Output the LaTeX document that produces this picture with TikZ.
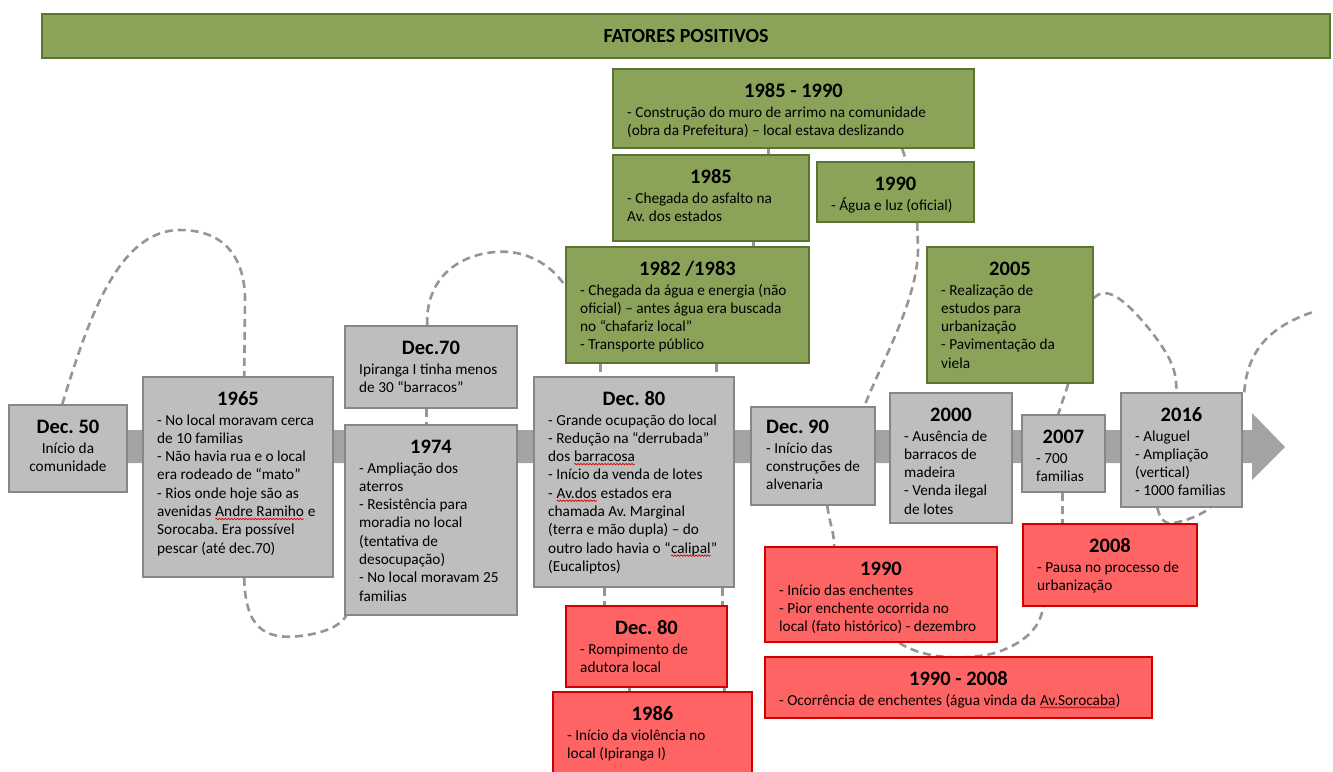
\documentclass[tikz,border=0pt]{standalone}
\usepackage{fontspec}
\setmainfont{Carlito}
\usetikzlibrary{backgrounds,decorations.pathmorphing}
\frenchspacing

\definecolor{grayfill}{HTML}{BEBEBE}
\definecolor{grayedge}{HTML}{878787}
\definecolor{barcol}{HTML}{A3A3A3}
\definecolor{greenfill}{HTML}{8AA359}
\definecolor{greenedge}{HTML}{5A7432}
\definecolor{redfill}{HTML}{FF6464}
\definecolor{rededge}{HTML}{D10000}
\definecolor{linkcol}{HTML}{959595}
\definecolor{squig}{HTML}{E00000}

\newcommand\titlefont{\fontsize{20.5}{24}\selectfont\bfseries}
\newcommand\bodyfont{\fontsize{15.3}{18.3}\selectfont}

% word with a red wavy underline
\newcommand\spell[1]{\tikz[baseline=(w.base)]{%
  \node[inner sep=0pt,outer sep=0pt,anchor=base] (w) {#1};
  \draw[squig,line width=0.7pt,decorate,decoration={snake,amplitude=0.7pt,segment length=3pt}]
    ([yshift=-2.5pt]w.base west) -- ([yshift=-2.5pt]w.base east);}}

% event card: name, style, left, top, right, bottom, title, body lines
\newcommand\tlcard[8]{%
  \node[#2, minimum width={(#5-#3)*1pt}, minimum height={(#6-#4)*1pt}]
    (#1) at ({(#3+#5)/2},{(#4+#6)/2}) {};
  \node[anchor=base, inner sep=0pt] (#1-t) at ({(#3+#5)/2},{#4+28}) {\titlefont #7};
  \node[anchor=base west, inner sep=0pt] (#1-b) at ({#3+14},{#4+48})
    {\bodyfont\begin{tabular}[t]{@{}l@{}}#8\end{tabular}};
}

\tikzset{
  graybox/.style={draw=grayedge, fill=grayfill, line width=1.5pt, inner sep=0pt},
  greenbox/.style={draw=greenedge, fill=greenfill, line width=1.5pt, inner sep=0pt},
  redbox/.style={draw=rededge, fill=redfill, line width=1.5pt, inner sep=0pt},
  dashlink/.style={draw=linkcol, line width=2.6pt, dash pattern=on 8pt off 5pt},
}

\begin{document}
\begin{tikzpicture}[x=1pt,y=-1pt]
\useasboundingbox (0,0) rectangle (1333,771);

% header
\node[draw=greenedge, fill=greenfill, line width=1.5pt, minimum width=1288pt,
      minimum height=44pt, font=\fontsize{20}{23}\selectfont\bfseries] (head) at (686,36) {FATORES POSITIVOS};

% timeline row
\node[graybox, minimum width=118pt, minimum height=87pt] (d50) at (68,448.5) {};
\node[anchor=base, inner sep=0pt] (d50-t) at (68,433) {\titlefont Dec. 50};
\node[anchor=base, inner sep=0pt] (d50-b) at (68,453)
  {\bodyfont\begin{tabular}[t]{@{}c@{}}Início da\\comunidade\end{tabular}};

\tlcard{y1965}{graybox}{143}{377}{333}{577}{1965}{- No local moravam cerca\\de 10 familias\\- Não havia rua e o local\\era rodeado de “mato”\\- Rios onde hoje são as\\avenidas \spell{Andre Ramiho} e\\Sorocaba. Era possível\\pescar (até dec.70)}
\tlcard{dec70}{graybox}{345}{326}{517}{408}{Dec.70}{Ipiranga I tinha menos\\de 30 “barracos”}
\tlcard{y1974}{graybox}{345}{425}{517}{615}{1974}{- Ampliação dos\\aterros\\- Resistência para\\moradia no local\\(tentativa de\\desocupação)\\- No local moravam 25\\familias}
\tlcard{dec80}{graybox}{534}{377}{734}{587}{Dec. 80}{- Grande ocupação do local\\- Redução na “derrubada”\\dos \spell{barracosa}\\- Início da venda de lotes\\- \spell{Av.dos} estados era\\chamada Av. Marginal\\(terra e mão dupla) – do\\outro lado havia o “\spell{calipal}”\\(Eucaliptos)}

\node[graybox, minimum width=124pt, minimum height=98pt] (d90) at (813,456) {};
\node[anchor=base west, inner sep=0pt] (d90-t) at (766,433) {\titlefont Dec. 90};
\node[anchor=base west, inner sep=0pt] (d90-b) at (766,453)
  {\bodyfont\begin{tabular}[t]{@{}l@{}}- Início das\\construções de\\alvenaria\end{tabular}};

\tlcard{y2000}{graybox}{890}{393}{1012}{523}{2000}{- Ausência de\\barracos de\\madeira\\- Venda ilegal\\de lotes}
\tlcard{y2007}{graybox}{1022}{415}{1105}{492}{2007}{- 700\\familias}
\tlcard{y2016}{graybox}{1121}{393}{1242}{507}{2016}{- Aluguel\\- Ampliação\\(vertical)\\- 1000 familias}

% positive factors
\tlcard{c8590}{greenbox}{613}{69}{974}{148}{1985 - 1990}{- Construção do muro de arrimo na comunidade\\(obra da Prefeitura) – local estava deslizando}
\tlcard{c1985}{greenbox}{613}{155}{809}{241}{1985}{- Chegada do asfalto na\\Av. dos estados}
\tlcard{g1990}{greenbox}{817}{162}{974}{222}{1990}{- Água e luz (oficial)}
\tlcard{c1982}{greenbox}{566}{247}{809}{363}{1982 /1983}{- Chegada da água e energia (não\\oficial) – antes água era buscada\\no “chafariz local”\\- Transporte público}
\tlcard{g2005}{greenbox}{927}{247}{1093}{383}{2005}{- Realização de\\estudos para\\urbanização\\- Pavimentação da\\viela}

% negative factors
\tlcard{rd80}{redbox}{566}{606}{727}{687}{Dec. 80}{- Rompimento de\\adutora local}
\tlcard{r1986}{redbox}{553}{692}{752}{790}{1986}{- Início da violência no\\local (Ipiranga I)}
\tlcard{r1990}{redbox}{765}{547}{997}{642}{1990}{- Início das enchentes\\- Pior enchente ocorrida no\\local (fato histórico) - dezembro}
\tlcard{r9008}{redbox}{765}{657}{1152}{718}{1990 - 2008}{- Ocorrência de enchentes (água vinda da \spell{Av.Sorocaba})}
\tlcard{r2008}{redbox}{1023}{524}{1197}{606}{2008}{- Pausa no processo de\\urbanização}

\coordinate (tail) at (1313,312);

\begin{pgfonlayer}{background}
  % time arrow
  \fill[barcol] (9,430) -- (1252,430) -- (1252,413) -- (1285,447) -- (1252,480)
    -- (1252,463) -- (9,463) -- cycle;
  % dashed links
  \draw[dashlink] ([xshift=54pt]d50.north west) .. controls (88,320) and (118,230) .. (180,230)
    .. controls (228,230) and (245,262) .. (245,300) -- ([xshift=102pt]y1965.north west);
  \draw[dashlink] ([xshift=102pt]y1965.south west) .. controls (245,628) and (265,640) .. (300,636)
    .. controls (325,633) and (340,626) .. ([xshift=2pt]y1974.south west);
  \draw[dashlink] ([xshift=82pt]dec70.south west) -- ([xshift=82pt]y1974.north west);
  \draw[dashlink] ([xshift=83pt]dec70.north west) .. controls (425,272) and (468,249) .. (510,252)
    .. controls (536,255) and (555,270) .. ([yshift=-40pt]c1982.north west);
  \draw[dashlink] ([xshift=35pt]c1982.south west) -- ([xshift=67pt]dec80.north west);
  \draw[dashlink] ([xshift=151pt]c1982.south west) -- ([xshift=183pt]dec80.north west);
  \draw[dashlink] ([xshift=156pt]c8590.south west) -- ([xshift=156pt]c1985.north west);
  \draw[dashlink] ([xshift=141pt]c1985.south west) -- ([xshift=188pt]c1982.north west);
  \draw[dashlink] ([xshift=290pt]c8590.south west) -- ([xshift=90pt]g1990.north west);
  \draw[dashlink] ([xshift=101pt]g1990.south west) -- (918,250)
    .. controls (917,300) and (885,355) .. ([xshift=114pt]d90.north west);
  \draw[dashlink] ([xshift=77pt]d90.south west) .. controls (830,525) and (834,532) .. ([xshift=70pt]r1990.north west);
  \draw[dashlink] ([xshift=71pt]dec80.south west) -- ([xshift=39pt]rd80.north west);
  \draw[dashlink] ([xshift=189pt]dec80.south west) -- ([xshift=157pt]rd80.north west);
  \draw[dashlink] ([xshift=64pt]rd80.south west) -- ([xshift=77pt]r1986.north west);
  \draw[dashlink] ([xshift=159pt]rd80.south west) -- ([xshift=172pt]r1986.north west);
  \draw[dashlink] ([xshift=135pt]r1990.south west) .. controls (925,660) and (968,660) .. (995,653)
    .. controls (1025,643) and (1040,628) .. ([xshift=21pt]r2008.south west);
  \draw[dashlink] ([xshift=142pt]g2005.south west) -- ([xshift=37pt]y2007.north west);
  \draw[dashlink] ([xshift=41pt]y2007.south west) -- ([xshift=40pt]r2008.north west);
  \draw[dashlink] ([yshift=-52pt]g2005.north east) .. controls (1106,285) and (1124,298) .. (1150,330)
    .. controls (1172,358) and (1177,372) .. ([xshift=56pt]y2016.north west);
  \draw[dashlink] ([xshift=37pt]y2016.south west) .. controls (1160,518) and (1163,524) .. ([xshift=150pt]r2008.north west)
    .. controls (1190,520) and (1202,514) .. ([xshift=90pt]y2016.south west);
  \draw[dashlink] ([xshift=124pt]y2016.north west) .. controls (1247,355) and (1265,328) .. (tail);
\end{pgfonlayer}
\end{tikzpicture}
\end{document}
